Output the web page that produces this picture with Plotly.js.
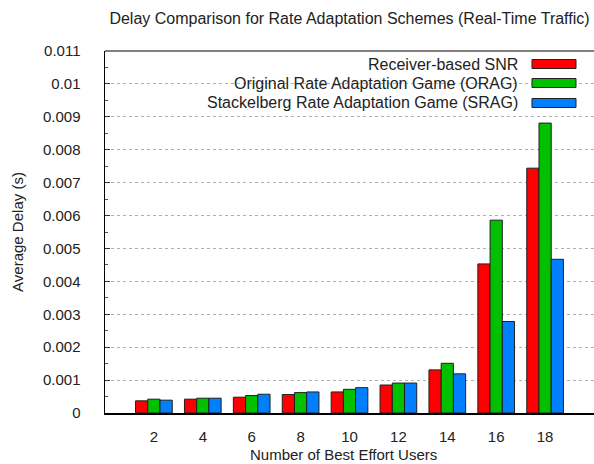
<!DOCTYPE html>
<html><head><meta charset="utf-8">
<script src="https://cdn.plot.ly/plotly-3.0.1.min.js"></script>
<style>html,body{margin:0;padding:0;background:#fff}</style>
</head><body><div id="chart" style="width:594px;height:464px"></div>
<script>
const users = [2, 4, 6, 8, 10, 12, 14, 16, 18];
const seriesNames = ["Receiver-based SNR", "Original Rate Adaptation Game (ORAG)", "Stackelberg Rate Adaptation Game (SRAG)"];
const snrDelay  = [0.00037, 0.00042, 0.00048, 0.00056, 0.00064, 0.00085, 0.00131, 0.00453, 0.00744];
const oragDelay = [0.00042, 0.00045, 0.00053, 0.00062, 0.00072, 0.00091, 0.00151, 0.00586, 0.00881];
const sragDelay = [0.00039, 0.00045, 0.00057, 0.00064, 0.00077, 0.00091, 0.00119, 0.00278, 0.00467];
const seriesColors = ["#ff0000", "#00c000", "#0080ff"];
const xTitle = 'Number of Best Effort Users';

const allSeries = [snrDelay, oragDelay, sragDelay];
const traces = allSeries.map((vals, i) => ({
  type: 'bar', x: users, y: vals, name: seriesNames[i],
  marker: {color: seriesColors[i], line: {color: '#202020', width: 1}},
  hoverinfo: 'x+y'
}));

const font = {family: 'Liberation Sans, Arial, sans-serif', size: 15, color: '#222'};

// custom legend (text right-aligned, swatch on right), in paper coords
const legendRowsY = [0.964, 0.9116, 0.8564];
const annotations = [];
const shapes = [];
seriesNames.forEach((n, i) => {
  annotations.push({xref: 'paper', yref: 'paper', x: 0.8487, y: legendRowsY[i], xanchor: 'right', yanchor: 'middle',
    text: n, showarrow: false, font: {family: font.family, size: 16, color: '#222'}});
  shapes.push({type: 'rect', xref: 'paper', yref: 'paper', x0: 0.8732, x1: 0.9632,
    y0: legendRowsY[i] - 0.0124, y1: legendRowsY[i] + 0.0124,
    fillcolor: seriesColors[i], line: {color: '#202020', width: 1}});
});
// x-axis title as annotation
annotations.push({xref: 'paper', yref: 'paper', x: 0.4877, y: -0.114, xanchor: 'center', yanchor: 'middle',
  text: xTitle, showarrow: false, font: font});
// top border
shapes.push({type: 'line', xref: 'paper', yref: 'paper', x0: 0, x1: 1, y0: 1, y1: 1, line: {color: '#808080', width: 2}});

const layout = {
  width: 594, height: 464,
  margin: {l: 105, r: 0, t: 51, b: 51, pad: 0},
  paper_bgcolor: '#fff', plot_bgcolor: '#fff',
  font: font,
  showlegend: false,
  bargap: 0.25, bargroupgap: 0,
  title: {text: 'Delay Comparison for Rate Adaptation Schemes (Real-Time Traffic)', font: {family: font.family, size: 16, color: '#222'},
    x: 0.5, xref: 'paper', xanchor: 'center', y: 1 - 18/464, yanchor: 'middle'},
  xaxis: {
    range: [0, 20], tickvals: users, ticks: '', showgrid: false, zeroline: false,
    showline: true, linecolor: '#000', linewidth: 1.5,
    ticklabelstandoff: 9
  },
  yaxis: {
    range: [0, 0.011], dtick: 0.001, tick0: 0,
    ticks: 'inside', ticklen: 5, tickcolor: '#333', tickwidth: 1,
    minor: {dtick: 0.0005, ticks: 'inside', ticklen: 3, tickcolor: '#555', showgrid: false},
    showgrid: true, gridcolor: '#b0b0b0', griddash: 'dot', gridwidth: 1,
    zeroline: false, showline: true, linecolor: '#000', linewidth: 1.5,
    ticklabelstandoff: 20,
    title: {text: 'Average Delay (s)', font: font, standoff: 15}
  },
  annotations: annotations,
  shapes: shapes
};
Plotly.newPlot('chart', traces, layout, {displayModeBar: false, staticPlot: true});
</script>
</body></html>
